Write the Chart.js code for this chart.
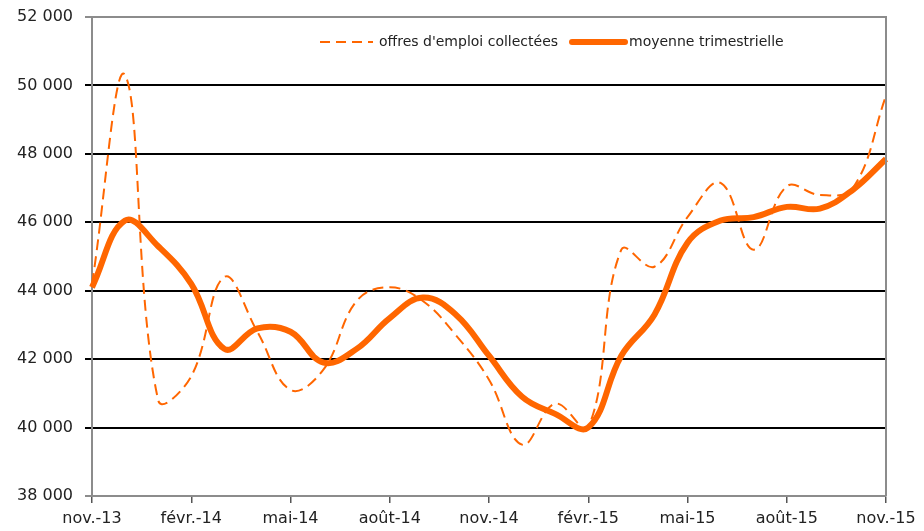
<!DOCTYPE html>
<html>
<head>
<meta charset="utf-8">
<script src="https://cdn.jsdelivr.net/npm/chart.js@4/dist/chart.umd.min.js"></script>
<style>
  html, body { margin: 0; padding: 0; background: #fff; }
  #wrap { width: 924px; height: 531px; position: relative; }
</style>
</head>
<body>
<div id="wrap"><canvas id="chart"></canvas></div>
<script>
// Monthly categories, nov.-13 to nov.-15 (only every 3rd is labelled)
const months = [
  "nov.-13", "déc.-13", "janv.-14", "févr.-14", "mars-14", "avr.-14", "mai-14",
  "juin-14", "juil.-14", "août-14", "sept.-14", "oct.-14", "nov.-14", "déc.-14",
  "janv.-15", "févr.-15", "mars-15", "avr.-15", "mai-15", "juin-15", "juil.-15",
  "août-15", "sept.-15", "oct.-15", "nov.-15"
];

// Job offers collected each month
const offres = [
  44200, 50300, 40800, 41500, 44400, 42800, 41100, 41700, 43700, 44100,
  43700, 42700, 41400, 39500, 40700, 40000, 45200, 44700, 46150, 47150,
  45200, 47050, 46800, 47000, 49700
];

// Three-month moving average
const moyenne = [
  44100, 46050, 45300, 44200, 42300, 42900, 42800, 41900, 42300, 43200,
  43800, 43300, 42100, 40900, 40400, 40000, 42100, 43300, 45400, 46050,
  46150, 46450, 46400, 46950, 47850
];

const seriesNames = ["offres d'emploi collectées", "moyenne trimestrielle"];

const orange = "#ff6600";
const axisFont = { family: "DejaVu Sans", size: 16 };

// French thousands separator: 52 000
let fmt = (v) => String(v).replace(/\B(?=(\d{3})+(?!\d))/g, " ");

// Legend inside the plot area, top right, plus the grey frame of the plot
const frameAndLegend = {
  id: "frameAndLegend",
  afterDraw(chart) {
    let ctx = chart.ctx,
      a = chart.chartArea;

    ctx.save();
    ctx.strokeStyle = "#8c8c8c";
    ctx.lineWidth = 2;
    ctx.beginPath();
    ctx.moveTo(a.left, a.top);
    ctx.lineTo(a.right, a.top);
    ctx.lineTo(a.right, a.bottom);
    ctx.stroke();

    ctx.font = "14px 'DejaVu Sans'";
    ctx.fillStyle = "#222";
    ctx.textBaseline = "middle";
    let y = 42;

    // dashed sample
    ctx.strokeStyle = orange;
    ctx.lineWidth = 2;
    ctx.setLineDash([10, 6]);
    ctx.beginPath();
    ctx.moveTo(320, y);
    ctx.lineTo(373, y);
    ctx.stroke();
    ctx.setLineDash([]);
    ctx.fillText(seriesNames[0], 379, y);

    // solid sample
    ctx.lineWidth = 6;
    ctx.lineCap = "round";
    ctx.beginPath();
    ctx.moveTo(572, y);
    ctx.lineTo(625, y);
    ctx.stroke();
    ctx.fillText(seriesNames[1], 629, y);
    ctx.restore();
  },
};

new Chart(document.getElementById("chart"), {
  type: "line",
  data: {
    labels: months,
    datasets: [
      {
        label: seriesNames[0],
        data: offres,
        borderColor: orange,
        borderWidth: 2,
        borderDash: [11, 6],
        tension: 0.4,
        pointRadius: 0,
        fill: false,
      },
      {
        label: seriesNames[1],
        data: moyenne,
        borderColor: orange,
        borderWidth: 6,
        tension: 0.4,
        pointRadius: 0,
        fill: false,
      },
    ],
  },
  options: {
    responsive: true,
    maintainAspectRatio: false,
    animation: false,
    layout: { padding: { top: 17, right: 38, left: 0, bottom: 0 } },
    plugins: {
      legend: { display: false },
      tooltip: { enabled: false },
    },
    scales: {
      x: {
        offset: false,
        grid: {
          drawOnChartArea: false,
          tickLength: 7,
          color: (c) => (c.index % 3 === 0 ? "#555" : "transparent"),
          lineWidth: 1.5,
        },
        border: { color: "#8c8c8c", width: 2 },
        ticks: {
          autoSkip: false,
          maxRotation: 0,
          padding: 6,
          color: "#222",
          font: axisFont,
          callback: (v, i) => (i % 3 === 0 ? months[i] : ""),
        },
        afterFit: (scale) => {
          scale.height = 35;
        },
      },
      y: {
        min: 38000,
        max: 52000,
        ticks: {
          stepSize: 2000,
          padding: 12,
          color: "#222",
          font: axisFont,
          callback: (v) => fmt(v),
        },
        grid: {
          color: (c) =>
            c.tick && (c.tick.value === 38000 || c.tick.value === 52000)
              ? "#8c8c8c"
              : "#000",
          lineWidth: 2,
          tickLength: 7,
        },
        border: { color: "#8c8c8c", width: 2 },
        afterFit: (scale) => {
          scale.width = 92;
          // don't let the top label push the plot area down
          scale.paddingTop = 0;
          scale.paddingBottom = 0;
        },
      },
    },
  },
  plugins: [frameAndLegend],
});
</script>
</body>
</html>
